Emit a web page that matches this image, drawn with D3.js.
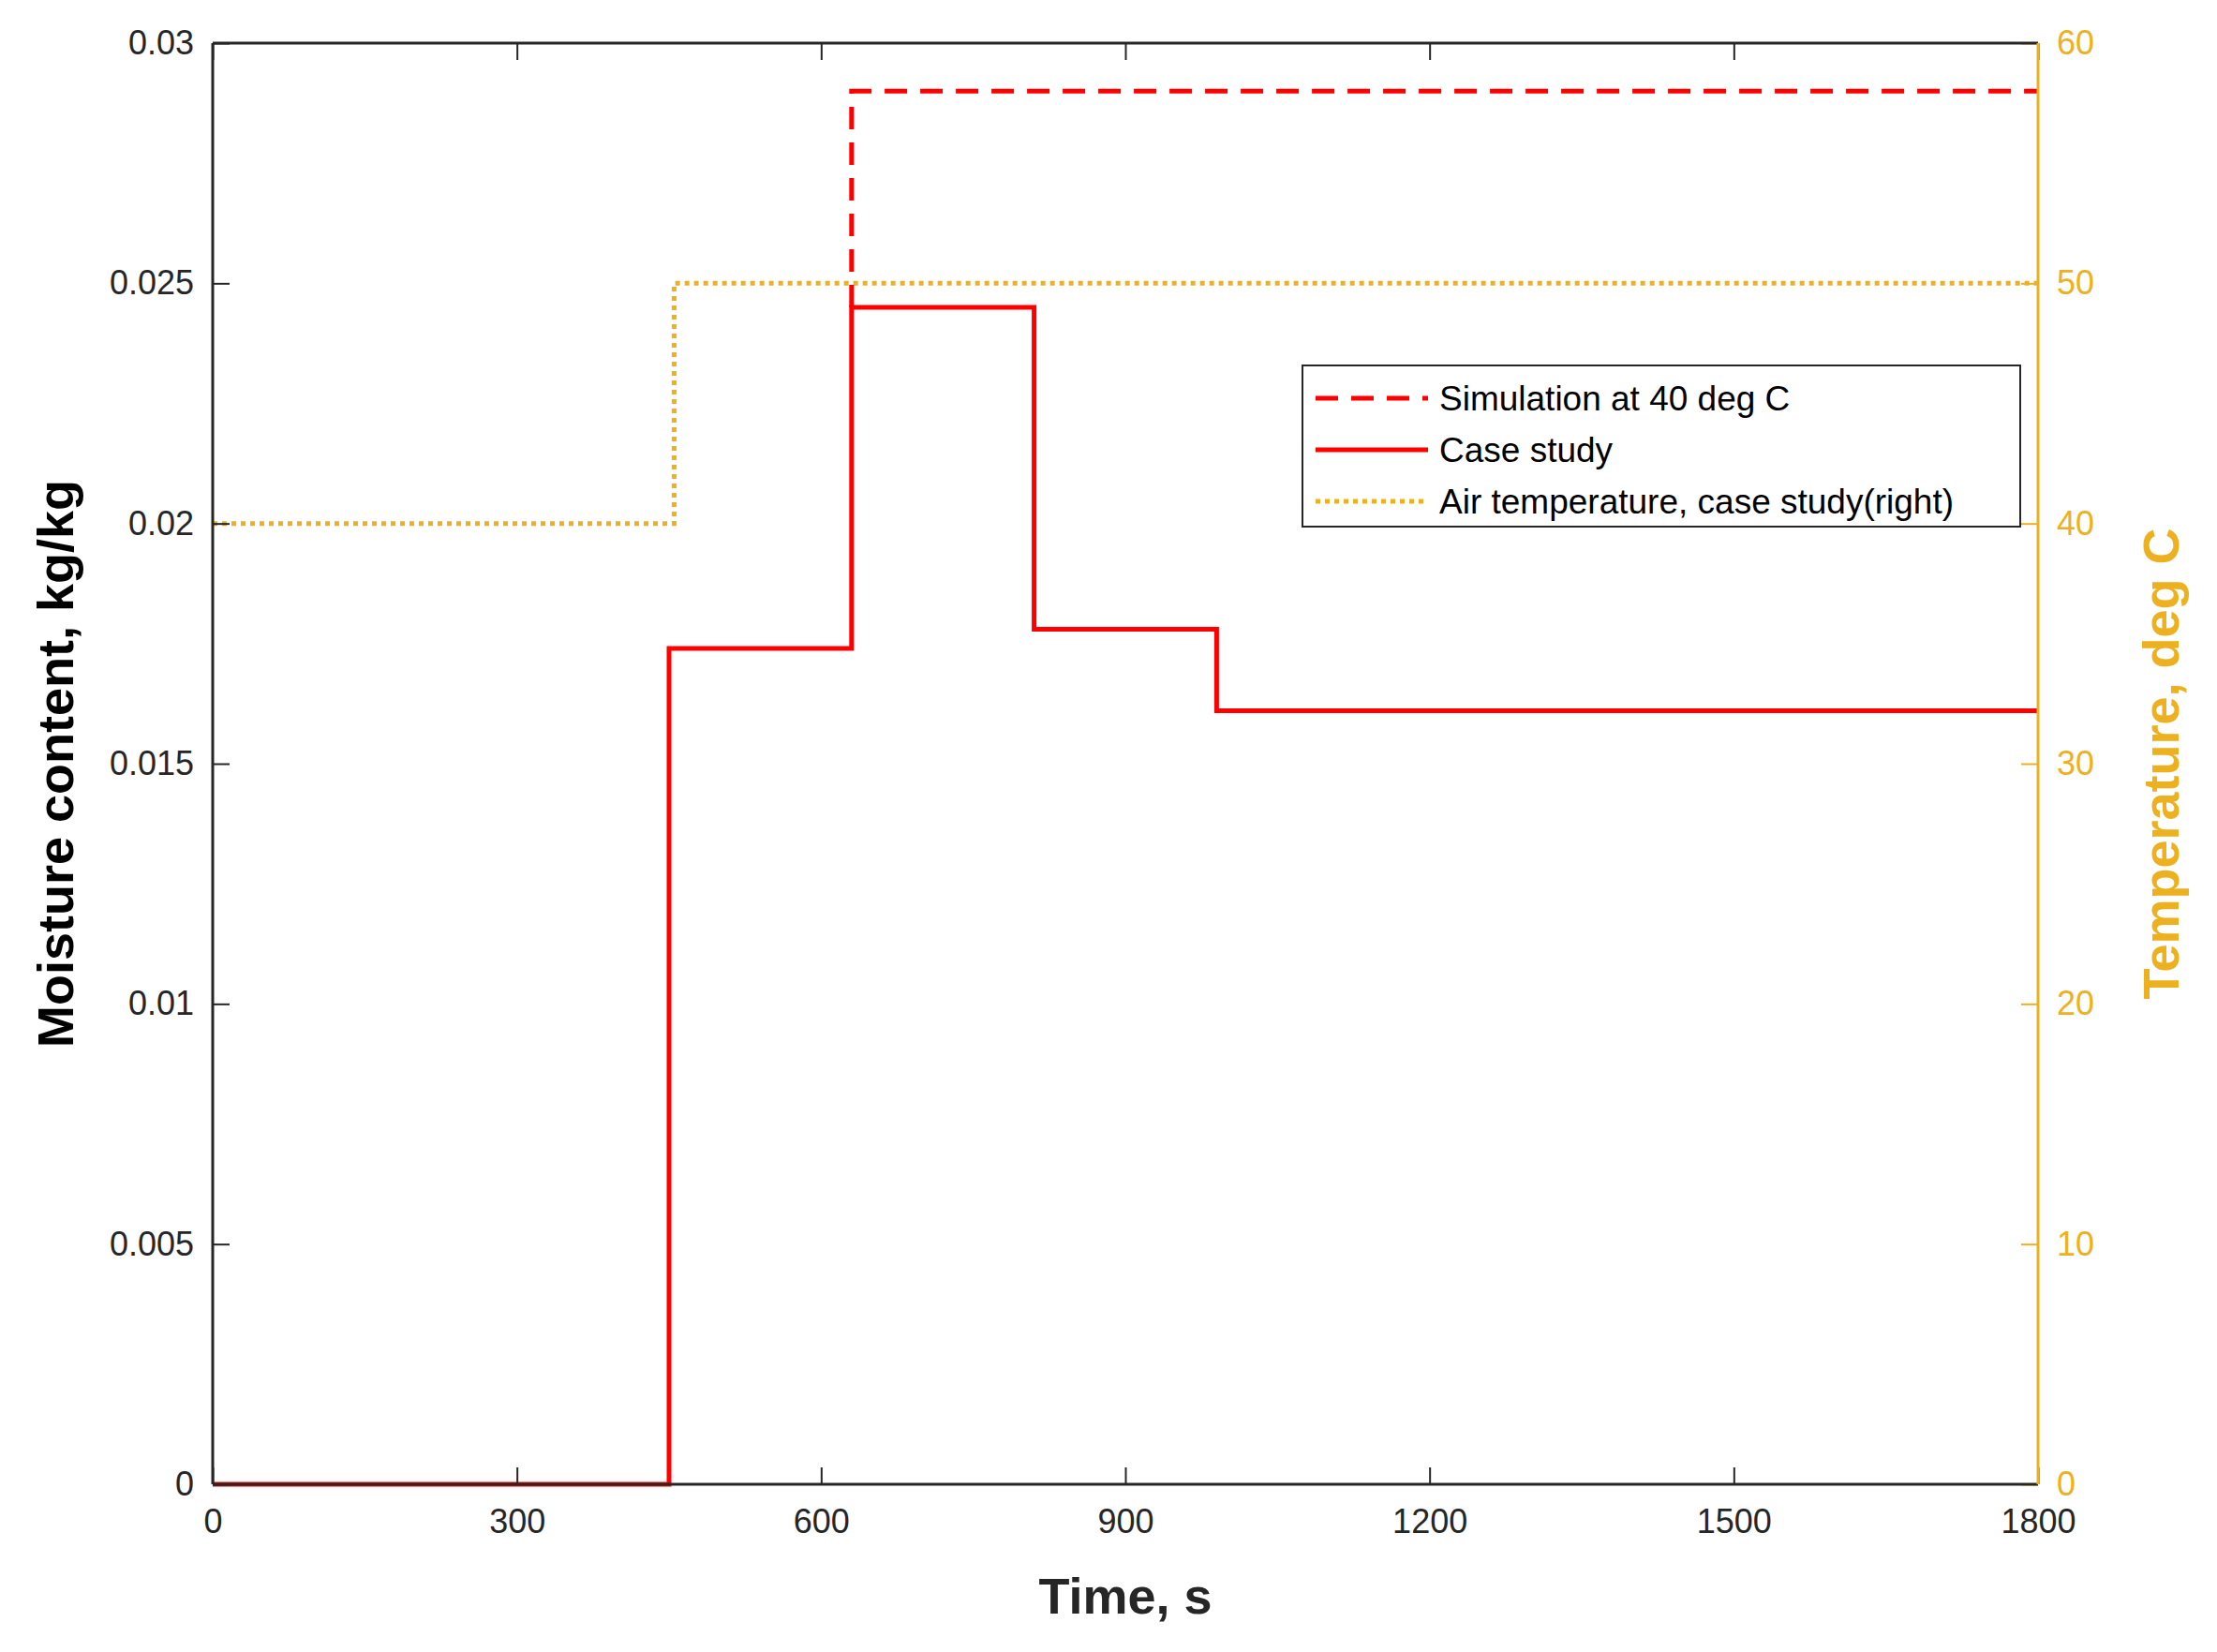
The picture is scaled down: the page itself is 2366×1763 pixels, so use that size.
<!DOCTYPE html>
<html><head><meta charset="utf-8">
<script src="https://cdn.jsdelivr.net/npm/d3@7"></script>
<style>body{margin:0;background:#fff}svg{display:block}text{font-family:"Liberation Sans",Arial,sans-serif}</style>
</head><body><svg id="c" width="2366" height="1763"></svg>
<script>
// data
const caseTime = [0, 450, 450, 630, 630, 810, 810, 990, 990, 1800];
const caseVal  = [0, 0, 0.0174, 0.0174, 0.0245, 0.0245, 0.0178, 0.0178, 0.0161, 0.0161];
const simTime  = [630, 630, 1800];
const simVal   = [0.0245, 0.029, 0.029];
const airTime  = [0, 455, 455, 1800];
const airVal   = [40, 40, 50, 50];
const xTicks = [0, 300, 600, 900, 1200, 1500, 1800];
const yTicks = [0, 0.005, 0.01, 0.015, 0.02, 0.025, 0.03];
const y2Ticks = [0, 10, 20, 30, 40, 50, 60];
const legendLabels = ['Simulation at 40 deg C', 'Case study', 'Air temperature, case study(right)'];

const ORANGE = '#EDB120', RED = '#FF0000';
const L = 227, R = 2175, T = 46, B = 1584;
const svg = d3.select('#c');
const x = d3.scaleLinear().domain([0, 1800]).range([L, R]);
const y = d3.scaleLinear().domain([0, 0.03]).range([B, T]);
const y2 = d3.scaleLinear().domain([0, 60]).range([B, T]);

const line = (xs, ys, sc) => d3.line().x((d, i) => x(xs[i])).y((d, i) => sc(ys[i]))(xs);

svg.append('path').attr('d', line(airTime, airVal, y2)).attr('fill', 'none')
  .attr('stroke', ORANGE).attr('stroke-width', 5).attr('stroke-dasharray', '5 5');
svg.append('path').attr('d', line(simTime, simVal, y)).attr('fill', 'none')
  .attr('stroke', RED).attr('stroke-width', 5).attr('stroke-dasharray', '24 14');
svg.append('path').attr('d', line(caseTime, caseVal, y)).attr('fill', 'none')
  .attr('stroke', RED).attr('stroke-width', 5);

const style = (g, col) => {
  g.selectAll('.domain').remove();
  g.selectAll('line').attr('stroke', col).attr('stroke-width', 2);
  g.selectAll('text').attr('fill', col).style('font-size', '36px');
};
const gx = svg.append('g').attr('transform', `translate(0,${B})`)
  .call(d3.axisBottom(x).tickValues(xTicks).tickSize(-18).tickPadding(26).tickFormat(d3.format('d')));
style(gx, '#262626');
const gxt = svg.append('g').attr('transform', `translate(0,${T})`)
  .call(d3.axisTop(x).tickValues(xTicks).tickSize(-18).tickFormat(''));
style(gxt, '#262626');
const gy = svg.append('g').attr('transform', `translate(${L},0)`)
  .call(d3.axisLeft(y).tickValues(yTicks).tickSize(-18).tickPadding(20).tickFormat(d => d === 0 ? '0' : String(+d.toFixed(3))));
style(gy, '#262626');
const gy2 = svg.append('g').attr('transform', `translate(${R},0)`)
  .call(d3.axisRight(y2).tickValues(y2Ticks).tickSize(-18).tickPadding(20));
style(gy2, ORANGE);

svg.append('line').attr('x1', L).attr('x2', R).attr('y1', T).attr('y2', T).attr('stroke', '#262626').attr('stroke-width', 3);
svg.append('line').attr('x1', L).attr('x2', R).attr('y1', B).attr('y2', B).attr('stroke', '#262626').attr('stroke-width', 3);
svg.append('line').attr('x1', L).attr('x2', L).attr('y1', T).attr('y2', B).attr('stroke', '#262626').attr('stroke-width', 3);
svg.append('line').attr('x1', R).attr('x2', R).attr('y1', T).attr('y2', B).attr('stroke', ORANGE).attr('stroke-width', 3);

svg.append('text').attr('x', (L + R) / 2).attr('y', 1722).attr('text-anchor', 'middle')
  .attr('fill', '#262626').style('font-size', '54px').style('font-weight', 'bold').text('Time, s');
svg.append('text').attr('transform', `translate(78,${(T + B) / 2}) rotate(-90)`).attr('text-anchor', 'middle')
  .attr('fill', '#000').style('font-size', '54px').style('font-weight', 'bold').text('Moisture content, kg/kg');
svg.append('text').attr('transform', `translate(2325,${(T + B) / 2}) rotate(-90)`).attr('text-anchor', 'middle')
  .attr('fill', ORANGE).style('font-size', '54px').style('font-weight', 'bold').text('Temperature, deg C');

// legend
const lg = svg.append('g').attr('transform', 'translate(1390,390)');
lg.append('rect').attr('width', 766).attr('height', 172).attr('fill', '#fff').attr('stroke', '#262626').attr('stroke-width', 2);
const lstyles = [[RED, '24 14'], [RED, null], [ORANGE, '5 5']];
legendLabels.forEach((t, i) => {
  const yy = 35 + i * 55;
  lg.append('line').attr('x1', 14).attr('x2', 134).attr('y1', yy).attr('y2', yy)
    .attr('stroke', lstyles[i][0]).attr('stroke-width', 5).attr('stroke-dasharray', lstyles[i][1]);
  lg.append('text').attr('x', 146).attr('y', yy).attr('dy', '0.35em').attr('fill', '#000')
    .style('font-size', '37px').text(t);
});
</script></body></html>
